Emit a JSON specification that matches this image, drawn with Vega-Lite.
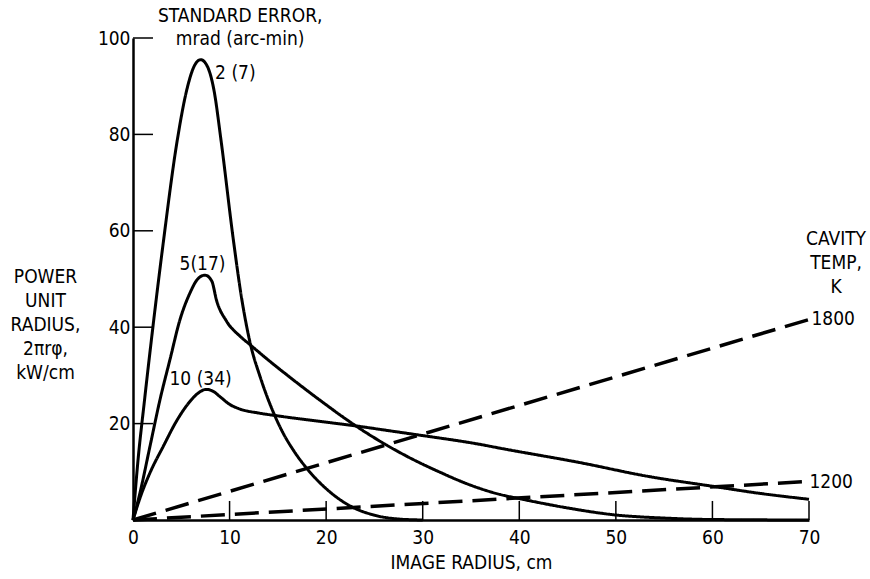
{
  "$schema": "https://vega.github.io/schema/vega-lite/v6.json",
  "width": 676,
  "height": 482,
  "autosize": {"type": "none"},
  "padding": {"left": 133, "top": 38, "right": 61, "bottom": 59},
  "background": "white",
  "config": {
    "view": {"stroke": null},
    "font": "DejaVu Sans Condensed",
    "axis": {
      "domainColor": "black", "tickColor": "black", "labelColor": "black", "titleColor": "black",
      "labelFont": "DejaVu Sans Condensed", "titleFont": "DejaVu Sans Condensed",
      "grid": false, "labelFontSize": 19, "titleFontSize": 19, "titleFontWeight": "normal"
    }
  },
  "datasets": {
    "curves": [
      {"series": "2", "kind": "solid", "x": 0, "y": 0},
      {"series": "2", "kind": "solid", "x": 0.5, "y": 12},
      {"series": "2", "kind": "solid", "x": 1.2, "y": 25},
      {"series": "2", "kind": "solid", "x": 2, "y": 39},
      {"series": "2", "kind": "solid", "x": 3.1, "y": 57},
      {"series": "2", "kind": "solid", "x": 4.6, "y": 79},
      {"series": "2", "kind": "solid", "x": 5.6, "y": 89.5},
      {"series": "2", "kind": "solid", "x": 6.3, "y": 94},
      {"series": "2", "kind": "solid", "x": 7, "y": 95.5},
      {"series": "2", "kind": "solid", "x": 7.6, "y": 94.5},
      {"series": "2", "kind": "solid", "x": 8.4, "y": 89},
      {"series": "2", "kind": "solid", "x": 9.1, "y": 79},
      {"series": "2", "kind": "solid", "x": 10.4, "y": 58},
      {"series": "2", "kind": "solid", "x": 11.25, "y": 46},
      {"series": "2", "kind": "solid", "x": 12.1, "y": 37},
      {"series": "2", "kind": "solid", "x": 13.2, "y": 29.5},
      {"series": "2", "kind": "solid", "x": 14.5, "y": 22.5},
      {"series": "2", "kind": "solid", "x": 15.5, "y": 18.2},
      {"series": "2", "kind": "solid", "x": 16.6, "y": 14.5},
      {"series": "2", "kind": "solid", "x": 18, "y": 10.7},
      {"series": "2", "kind": "solid", "x": 20, "y": 6.5},
      {"series": "2", "kind": "solid", "x": 22.5, "y": 2.9},
      {"series": "2", "kind": "solid", "x": 25, "y": 1},
      {"series": "2", "kind": "solid", "x": 27.5, "y": 0.2},
      {"series": "2", "kind": "solid", "x": 30, "y": 0},

      {"series": "5", "kind": "solid", "x": 0, "y": 0},
      {"series": "5", "kind": "solid", "x": 0.72, "y": 5.6},
      {"series": "5", "kind": "solid", "x": 1.76, "y": 15.3},
      {"series": "5", "kind": "solid", "x": 2.8, "y": 25},
      {"series": "5", "kind": "solid", "x": 3.83, "y": 33.3},
      {"series": "5", "kind": "solid", "x": 4.87, "y": 41.6},
      {"series": "5", "kind": "solid", "x": 5.9, "y": 47.1},
      {"series": "5", "kind": "solid", "x": 6.7, "y": 50},
      {"series": "5", "kind": "solid", "x": 7.45, "y": 50.8},
      {"series": "5", "kind": "solid", "x": 8.15, "y": 49.6},
      {"series": "5", "kind": "solid", "x": 8.66, "y": 45.5},
      {"series": "5", "kind": "solid", "x": 9.7, "y": 41.2},
      {"series": "5", "kind": "solid", "x": 11.1, "y": 38.1},
      {"series": "5", "kind": "solid", "x": 12.1, "y": 36.4},
      {"series": "5", "kind": "solid", "x": 14, "y": 33.2},
      {"series": "5", "kind": "solid", "x": 16, "y": 30},
      {"series": "5", "kind": "solid", "x": 18, "y": 26.9},
      {"series": "5", "kind": "solid", "x": 20, "y": 23.9},
      {"series": "5", "kind": "solid", "x": 22, "y": 21},
      {"series": "5", "kind": "solid", "x": 24, "y": 18.3},
      {"series": "5", "kind": "solid", "x": 26.3, "y": 15.5},
      {"series": "5", "kind": "solid", "x": 28, "y": 13.6},
      {"series": "5", "kind": "solid", "x": 31.8, "y": 9.9},
      {"series": "5", "kind": "solid", "x": 35, "y": 7.2},
      {"series": "5", "kind": "solid", "x": 38, "y": 5.3},
      {"series": "5", "kind": "solid", "x": 40.1, "y": 4.4},
      {"series": "5", "kind": "solid", "x": 45, "y": 2.5},
      {"series": "5", "kind": "solid", "x": 49.7, "y": 1.1},
      {"series": "5", "kind": "solid", "x": 55, "y": 0.4},
      {"series": "5", "kind": "solid", "x": 60, "y": 0.1},
      {"series": "5", "kind": "solid", "x": 70, "y": 0},

      {"series": "10", "kind": "solid", "x": 0, "y": 0},
      {"series": "10", "kind": "solid", "x": 0.8, "y": 5},
      {"series": "10", "kind": "solid", "x": 1.76, "y": 9.8},
      {"series": "10", "kind": "solid", "x": 3.14, "y": 15.3},
      {"series": "10", "kind": "solid", "x": 4.5, "y": 20.5},
      {"series": "10", "kind": "solid", "x": 5.9, "y": 24.6},
      {"series": "10", "kind": "solid", "x": 6.8, "y": 26.4},
      {"series": "10", "kind": "solid", "x": 7.6, "y": 27.1},
      {"series": "10", "kind": "solid", "x": 8.3, "y": 26.7},
      {"series": "10", "kind": "solid", "x": 9, "y": 25.6},
      {"series": "10", "kind": "solid", "x": 10, "y": 24},
      {"series": "10", "kind": "solid", "x": 11.1, "y": 23},
      {"series": "10", "kind": "solid", "x": 13, "y": 22.2},
      {"series": "10", "kind": "solid", "x": 15, "y": 21.6},
      {"series": "10", "kind": "solid", "x": 20.4, "y": 20.2},
      {"series": "10", "kind": "solid", "x": 22.8, "y": 19.6},
      {"series": "10", "kind": "solid", "x": 26.6, "y": 18.5},
      {"series": "10", "kind": "solid", "x": 29.7, "y": 17.6},
      {"series": "10", "kind": "solid", "x": 35.9, "y": 15.7},
      {"series": "10", "kind": "solid", "x": 38, "y": 14.9},
      {"series": "10", "kind": "solid", "x": 46.3, "y": 11.9},
      {"series": "10", "kind": "solid", "x": 53.2, "y": 9.1},
      {"series": "10", "kind": "solid", "x": 60, "y": 7},
      {"series": "10", "kind": "solid", "x": 65, "y": 5.5},
      {"series": "10", "kind": "solid", "x": 70, "y": 4.3},

      {"series": "1800", "kind": "dashed", "x": 0, "y": 0},
      {"series": "1800", "kind": "dashed", "x": 70, "y": 41.6},
      {"series": "1200", "kind": "dashed", "x": 0, "y": 0},
      {"series": "1200", "kind": "dashed", "x": 70, "y": 8}
    ],
    "labels": [
      {"x": 10.6, "y": 92.8, "label": "2 (7)"},
      {"x": 7.2, "y": 53.2, "label": "5(17)"},
      {"x": 7.0, "y": 29.3, "label": "10 (34)"},
      {"x": 72.5, "y": 41.7, "label": "1800"},
      {"x": 72.3, "y": 7.9, "label": "1200"},
      {"x": 11.1, "y": 104.5, "label": "STANDARD ERROR,"},
      {"x": 11.1, "y": 99.7, "label": "mrad (arc-min)"},
      {"x": 72.8, "y": 58.4, "label": "CAVITY"},
      {"x": 72.8, "y": 53.4, "label": "TEMP,"},
      {"x": 72.8, "y": 48.4, "label": "K"}
    ],
    "xticks": [{"v": 10}, {"v": 20}, {"v": 30}, {"v": 40}, {"v": 50}, {"v": 60}, {"v": 70}],
    "yticks": [{"v": 20}, {"v": 40}, {"v": 60}, {"v": 80}, {"v": 100}]
  },
  "layer": [
    {
      "data": {"name": "curves"},
      "mark": {"type": "line", "interpolate": "monotone", "color": "black", "strokeCap": "butt", "strokeJoin": "round"},
      "encoding": {
        "x": {
          "field": "x", "type": "quantitative",
          "scale": {"domain": [0, 70], "nice": false, "zero": false},
          "axis": {
            "values": [0, 10, 20, 30, 40, 50, 60, 70],
            "ticks": false, "domainWidth": 2.5,
            "labelPadding": 8, "labelFlush": false,
            "title": "IMAGE RADIUS, cm", "titlePadding": 6
          }
        },
        "y": {
          "field": "y", "type": "quantitative",
          "scale": {"domain": [0, 100], "nice": false},
          "axis": {
            "values": [20, 40, 60, 80, 100],
            "ticks": false, "domainWidth": 2.5,
            "labelPadding": 3,
            "title": ["POWER", "UNIT", "RADIUS,", "2πrφ,", "kW/cm"],
            "titleAngle": 0, "titleAlign": "center", "titleBaseline": "middle",
            "titleX": -88, "titleY": 238, "titleLineHeight": 24
          }
        },
        "detail": {"field": "series"},
        "strokeDash": {
          "field": "kind", "type": "nominal",
          "scale": {"domain": ["solid", "dashed"], "range": [[1, 0], [24, 10]]},
          "legend": null
        },
        "strokeWidth": {
          "field": "kind", "type": "nominal",
          "scale": {"domain": ["solid", "dashed"], "range": [3, 3.5]},
          "legend": null
        }
      }
    },
    {
      "data": {"name": "xticks"},
      "mark": {"type": "rule", "color": "black", "strokeWidth": 1.5},
      "encoding": {
        "x": {"field": "v", "type": "quantitative"},
        "y": {"datum": 0},
        "y2": {"datum": 3.95}
      }
    },
    {
      "data": {"name": "yticks"},
      "mark": {"type": "rule", "color": "black", "strokeWidth": 1.5},
      "encoding": {
        "y": {"field": "v", "type": "quantitative"},
        "x": {"datum": 0},
        "x2": {"datum": 2.07}
      }
    },
    {
      "data": {"name": "labels"},
      "mark": {"type": "text", "fontSize": 19, "color": "black", "align": "center", "baseline": "middle", "font": "DejaVu Sans Condensed"},
      "encoding": {
        "x": {"field": "x", "type": "quantitative"},
        "y": {"field": "y", "type": "quantitative"},
        "text": {"field": "label"}
      }
    }
  ]
}
